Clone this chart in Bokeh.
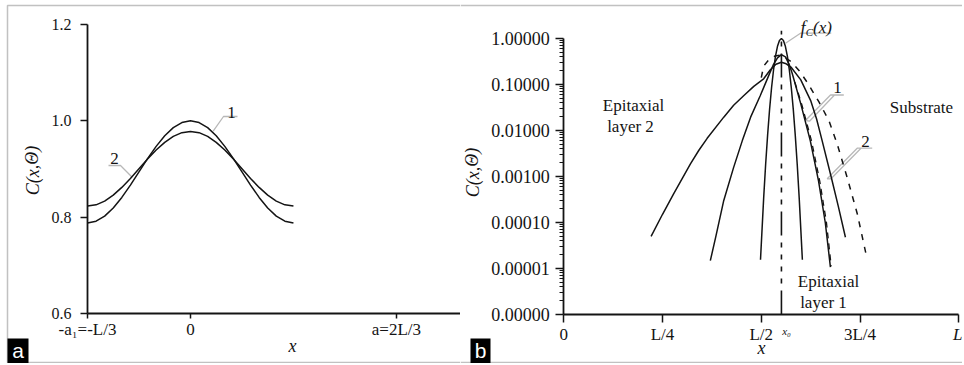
from bokeh.plotting import figure
from bokeh.models import (Range1d, LinearAxis, LogAxis, LogScale, FixedTicker,
                          PrintfTickFormatter, Label, PolyAnnotation)
from bokeh.layouts import row
from bokeh.embed import file_html
from bokeh.resources import INLINE

SERIF = "Liberation Serif"
INK = "#141414"

# ---------------- panel a data ----------------
a_x = [-0.3333, -0.3056, -0.2778, -0.2500, -0.2222, -0.1944, -0.1667, -0.1389, -0.1111,
       -0.0833, -0.0556, -0.0278, 0.0, 0.0278, 0.0556, 0.0833, 0.1111, 0.1389, 0.1667,
       0.1944, 0.2222, 0.2500, 0.2778, 0.3056, 0.3333]
a_curve1 = [0.788, 0.7916, 0.8022, 0.819, 0.841, 0.8666, 0.894, 0.9214, 0.947, 0.969, 0.9858,
            0.9964, 1.000, 0.9964, 0.9858, 0.969, 0.947, 0.9214, 0.894, 0.8666, 0.841, 0.819,
            0.8022, 0.7916, 0.788]
a_curve2 = [0.823, 0.8256, 0.8334, 0.8457, 0.8618, 0.8804, 0.9005, 0.9206, 0.9393, 0.9553,
            0.9676, 0.9754, 0.978, 0.9754, 0.9676, 0.9553, 0.9393, 0.9206, 0.9005, 0.8804,
            0.8618, 0.8457, 0.8334, 0.8256, 0.823]
a_yticks = [0.6, 0.8, 1.0, 1.2]
a_xticks = [-1 / 3, 0.0, 2 / 3]
a_xlabels = ["-a\u2081=-L/3", "0", "a=2L/3"]
a_xend = 0.874

# ---------------- panel b data ----------------
b_x0 = 0.551
fc_x = [0.498, 0.506, 0.511, 0.516, 0.521, 0.526, 0.531, 0.536, 0.541, 0.546, 0.551,
        0.556, 0.561, 0.566, 0.571, 0.576, 0.581, 0.586, 0.591, 0.596, 0.604]
fc_y = [1.55e-5, 3.39e-4, 1.82e-3, 7.94e-3, 2.88e-2, 8.51e-2, 0.207, 0.412, 0.675, 0.906, 1.0,
        0.906, 0.675, 0.412, 0.207, 8.51e-2, 2.88e-2, 7.94e-3, 1.82e-3, 3.39e-4, 1.55e-5]
c1_x = [0.371, 0.385, 0.405, 0.430, 0.452, 0.473, 0.497, 0.519, 0.530, 0.541, 0.551,
        0.561, 0.570, 0.578, 0.600, 0.624, 0.645, 0.662, 0.675]
c1_y = [1.48e-5, 5.01e-5, 3.02e-4, 1.58e-3, 6.03e-3, 1.95e-2, 5.62e-2, 0.158, 0.263, 0.380,
        0.447, 0.398, 0.282, 0.178, 3.80e-2, 6.03e-3, 7.94e-4, 1.0e-4, 1.07e-5]
c2_x = [0.221, 0.250, 0.278, 0.321, 0.342, 0.363, 0.405, 0.430, 0.456, 0.481, 0.506, 0.523,
        0.537, 0.551, 0.563, 0.575, 0.600, 0.625, 0.640, 0.654, 0.677, 0.695, 0.713]
c2_y = [5.01e-5, 1.51e-4, 4.17e-4, 1.91e-3, 3.72e-3, 6.76e-3, 1.95e-2, 3.55e-2, 5.75e-2,
        9.12e-2, 0.133, 0.209, 0.275, 0.305, 0.282, 0.240, 0.126, 4.47e-2, 1.78e-2, 6.03e-3,
        9.77e-4, 2.24e-4, 4.79e-5]
d_x = [0.500, 0.506, 0.520, 0.535, 0.551, 0.575, 0.596, 0.616, 0.646, 0.671, 0.692, 0.717,
       0.743, 0.765]
d_y = [0.141, 0.251, 0.355, 0.417, 0.437, 0.316, 0.200, 0.112, 4.17e-2, 1.66e-2, 5.13e-3,
       9.77e-4, 1.55e-4, 2.09e-5]
d2_x = [0.585, 0.603, 0.627, 0.648, 0.665, 0.677]
d2_y = [0.112, 3.55e-2, 6.03e-3, 7.94e-4, 1.0e-4, 1.12e-5]
x0_line_y = [1e-6, 1.48]
b_yticks = [1e-6, 1e-5, 1e-4, 1e-3, 1e-2, 1e-1, 1.0]
b_minor = [m * 10.0 ** e for e in range(-6, 0) for m in range(2, 10)]
b_xticks = [0.0, 0.25, 0.5, 0.75, 1.0]
b_xlabels = ["0", "L/4", "L/2", "3L/4", ""]

W_A, W_B, H = 460, 502, 363


def make_fig(w, xr, yr):
    p = figure(width=w, height=H, x_range=xr, y_range=yr, x_axis_type=None, y_axis_type=None,
               output_backend="svg", toolbar_location=None, min_border=0,
               outline_line_color=None)
    p.background_fill_color = "white"
    p.border_fill_color = "white"
    return p


def style_axis(ax, tick_out=7, standoff=6, size="16px"):
    ax.axis_line_color = INK
    ax.axis_line_width = 1.8
    ax.major_tick_line_color = INK
    ax.major_tick_line_width = 1.5
    ax.minor_tick_line_color = INK
    ax.minor_tick_line_width = 1.0
    ax.major_tick_in = 0
    ax.major_tick_out = tick_out
    ax.minor_tick_in = 0
    ax.minor_tick_out = 4
    ax.major_label_standoff = standoff
    ax.major_label_text_font = SERIF
    ax.major_label_text_font_size = size
    ax.major_label_text_color = INK


def lab(p, x, y, text, size="17px", style="normal", align="center", color=INK, angle=0.0,
        font=SERIF):
    p.add_layout(Label(x=x, y=y, x_units="screen", y_units="screen", text=text,
                       text_font=font, text_font_size=size, text_font_style=style,
                       text_align=align, text_baseline="middle", text_color=color,
                       angle=angle))


def poly(p, pts, fill=None, width=1.3, color=INK):
    p.add_layout(PolyAnnotation(xs=[q[0] for q in pts], ys=[q[1] for q in pts],
                                xs_units="screen", ys_units="screen",
                                fill_color=fill, fill_alpha=1.0 if fill else 0.0,
                                line_color=color, line_width=width))


# ================= panel a =================
pa = make_fig(W_A, Range1d(-0.6149, a_xend), Range1d(0.4962, 1.2498))
ya = LinearAxis(fixed_location=a_xticks[0], ticker=FixedTicker(ticks=a_yticks, minor_ticks=[]),
                formatter=PrintfTickFormatter(format="%.1f"), bounds=(a_yticks[0], a_yticks[-1]))
style_axis(ya, tick_out=7, standoff=9)
pa.add_layout(ya, "left")
xa = LinearAxis(fixed_location=a_yticks[0], ticker=FixedTicker(ticks=a_xticks, minor_ticks=[]),
                major_label_overrides=dict(zip(a_xticks, a_xlabels)),
                bounds=(a_xticks[0], a_xend))
style_axis(xa, tick_out=5, standoff=1, size="17px")
pa.add_layout(xa, "below")

pa.line(a_x, a_curve1, line_color=INK, line_width=1.5)
pa.line(a_x, a_curve2, line_color=INK, line_width=1.5)

lab(pa, 231, 251, "1")
poly(pa, [(237, 247), (223, 247), (212.7, 232.3), (223, 247)])
lab(pa, 114, 205, "2")
poly(pa, [(108, 198), (120, 198), (131.7, 186.3), (120, 198)])
lab(pa, 292, 18, "x", size="18px", style="italic")
lab(pa, 32, 193, "C(x,\u0398)", size="18px", style="italic", angle=1.5708)
# border (left, top, bottom)
poly(pa, [(W_A, 358), (7, 358), (7, 1), (W_A, 1), (7, 1), (7, 358)], width=1.5, color="#333")
poly(pa, [(7, 0), (28, 0), (28, 25), (7, 25)], fill="black", width=0, color="black")
lab(pa, 17.5, 13, "a", size="21px", color="white", font="Liberation Sans")

# ================= panel b =================
pb = make_fig(W_B, Range1d(-0.2615, 1.0094), Range1d(10 ** -7.065, 10 ** 0.826))
pb.y_scale = LogScale()
yb = LogAxis(fixed_location=b_xticks[0], ticker=FixedTicker(ticks=b_yticks, minor_ticks=b_minor),
             formatter=PrintfTickFormatter(format="%.5f"), bounds=(b_yticks[0], b_yticks[-1]))
style_axis(yb, tick_out=8, standoff=6, size="18px")
pb.add_layout(yb, "left")
xb = LinearAxis(fixed_location=b_yticks[0], ticker=FixedTicker(ticks=b_xticks, minor_ticks=[]),
                major_label_overrides=dict(zip(b_xticks, b_xlabels)),
                bounds=(b_xticks[0], b_xticks[-1]))
style_axis(xb, tick_out=8, standoff=2, size="17px")
pb.add_layout(xb, "below")

pb.line([b_x0, b_x0], x0_line_y, line_color=INK, line_width=1.6,
        line_dash="24 7 5 7 5 7 5 7 5 7")
for xs, ys in ((fc_x, fc_y), (c1_x, c1_y), (c2_x, c2_y)):
    pb.line(xs, ys, line_color=INK, line_width=1.5)
pb.line(d_x, d_y, line_color=INK, line_width=1.5, line_dash="6 7")
pb.line(d2_x, d2_y, line_color=INK, line_width=1.3, line_dash="6 5")

lab(pb, 173, 258, "Epitaxial")
lab(pb, 170, 237, "layer 2")
lab(pb, 461, 256, "Substrate")
lab(pb, 368, 82, "Epitaxial")
lab(pb, 363, 61, "layer 1")
lab(pb, 301, 16, "x", size="18px", style="italic")
lab(pb, 326, 33, "x\u2080", size="11px", style="italic")
lab(pb, 502, 29, "L", size="17px", style="italic", align="right")
lab(pb, 12, 191, "C(x,\u0398)", size="18px", style="italic", angle=1.5708)
lab(pb, 377, 276, "1")
poly(pb, [(383.3, 268.5), (370, 268.5), (345, 243), (349, 242.3), (374, 268.5)])
lab(pb, 405, 222, "2")
poly(pb, [(411.7, 215.3), (396.7, 215.3), (366.7, 184.7), (370.5, 184.7), (400.5, 215.3)])
lab(pb, 345, 336, "f", size="18px", style="italic", align="right")
lab(pb, 349, 332, "C", size="11px", style="italic")
lab(pb, 362, 336, "(x)", size="17px", style="italic")
poly(pb, [(370.7, 330.3), (340, 330.3), (325, 320.3), (340, 330.3)])
# border (top, bottom)
poly(pb, [(0, 358), (W_B, 358)], width=1.5, color="#333")
poly(pb, [(0, 1), (W_B, 1)], width=1.5, color="#333")
poly(pb, [(10, 0), (30, 0), (30, 25), (10, 25)], fill="black", width=0, color="black")
lab(pb, 20, 13, "b", size="21px", color="white", font="Liberation Sans")

layout = row(pa, pb, spacing=0)
open("out.html", "w").write(file_html(layout, INLINE))
